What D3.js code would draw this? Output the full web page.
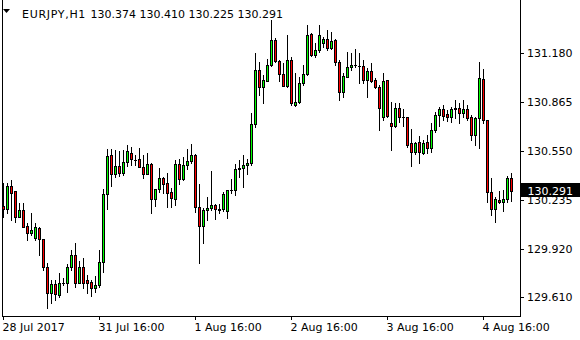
<!DOCTYPE html>
<html><head><meta charset="utf-8">
<script src="https://cdn.jsdelivr.net/npm/d3@7/dist/d3.min.js"></script>
<style>
html,body{margin:0;padding:0;background:#fff;}
svg{display:block;font-family:"DejaVu Sans",Verdana,sans-serif;}
</style></head>
<body>
<svg id="chart" width="580" height="340"></svg>
<script>
const symbol = "EURJPY,H1";
const timeLabels = ["28 Jul 2017","31 Jul 16:00","1 Aug 16:00","2 Aug 16:00","3 Aug 16:00","4 Aug 16:00"];
const timeLabelIndex = [0,24,48,72,96,120];
const priceTicks = [131.180,130.865,130.550,130.235,129.920,129.610];

const open = [
130.195,130.174,130.324,130.290,130.127,130.170,130.067,130.020,129.988,130.052,
129.981,129.805,129.638,129.694,129.623,129.702,129.698,129.801,129.878,129.702,
129.801,129.719,129.708,129.666,129.687,129.837,130.273,130.524,130.399,130.453,
130.406,130.477,130.535,130.493,130.496,130.444,130.399,130.466,130.239,130.303,
130.374,130.342,130.284,130.239,130.464,130.367,130.459,130.485,130.524,130.187,
130.067,130.170,130.181,130.202,130.170,130.174,130.163,130.298,130.298,130.432,
130.438,130.459,130.470,130.721,131.071,130.959,131.002,131.103,131.264,131.130,
131.045,130.968,131.135,130.845,130.867,130.985,131.045,131.302,131.167,131.199,
131.242,131.268,131.210,131.264,131.124,130.931,131.027,131.088,131.103,131.096,
131.096,131.006,131.066,131.006,130.959,130.766,131.006,130.728,130.710,130.824,
130.766,130.766,130.599,130.545,130.609,130.538,130.605,130.567,130.684,130.781,
130.820,130.786,130.770,130.820,130.828,130.792,130.820,130.770,130.652,130.760,
131.013,130.749,130.287,130.176,130.234,130.219,130.240,130.374];

const high = [
130.343,130.343,130.363,130.292,130.215,130.215,130.088,130.150,130.088,130.062,
129.981,129.829,129.719,129.719,129.764,129.732,129.822,129.912,129.957,129.843,
129.861,129.751,129.719,129.745,129.912,130.303,130.560,130.560,130.556,130.551,
130.556,130.588,130.573,130.524,130.567,130.524,130.535,130.474,130.303,130.438,
130.380,130.406,130.309,130.491,130.496,130.509,130.560,130.594,130.530,130.337,
130.181,130.255,130.423,130.208,130.208,130.287,130.298,130.369,130.466,130.491,
130.524,130.498,130.792,131.178,131.124,131.038,131.139,131.392,131.276,131.135,
131.114,131.296,131.156,131.049,131.027,131.103,131.360,131.307,131.242,131.360,
131.285,131.328,131.317,131.268,131.135,131.053,131.188,131.178,131.204,131.178,
131.135,131.082,131.114,131.017,130.974,131.053,131.006,130.867,130.856,130.856,
130.818,130.766,130.689,130.609,130.646,130.620,130.652,130.731,130.802,130.834,
130.845,130.813,130.834,130.878,130.856,130.878,130.845,130.781,130.770,131.120,
131.077,130.749,130.374,130.255,130.292,130.298,130.390,130.410];

const low = [
130.125,130.150,130.105,130.094,130.125,130.060,129.977,130.009,129.977,129.880,
129.784,129.539,129.571,129.591,129.612,129.687,129.644,129.784,129.676,129.698,
129.668,129.636,129.618,129.644,129.676,129.773,130.174,130.324,130.384,130.388,
130.395,130.455,130.459,130.459,130.444,130.374,130.399,130.148,130.195,130.287,
130.277,130.191,130.187,130.202,130.337,130.363,130.432,130.470,130.159,129.831,
129.959,130.105,130.170,130.110,130.148,130.165,130.116,130.277,130.266,130.380,
130.316,130.399,130.459,130.706,130.910,130.856,131.002,131.096,131.124,131.002,
130.968,130.959,130.845,130.839,130.856,130.974,131.038,131.161,131.156,131.188,
131.217,131.199,131.204,131.103,130.878,130.899,131.024,131.071,131.088,130.989,
130.985,130.899,130.995,130.953,130.684,130.749,130.766,130.556,130.706,130.738,
130.710,130.577,130.453,130.530,130.470,130.530,130.535,130.541,130.674,130.712,
130.749,130.742,130.738,130.760,130.728,130.770,130.749,130.620,130.588,130.571,
130.728,130.223,130.138,130.091,130.213,130.163,130.223,130.225];

const close = [
130.176,130.324,130.281,130.127,130.170,130.062,130.020,130.041,130.058,129.981,
129.805,129.638,129.694,129.629,129.698,129.702,129.801,129.878,129.702,129.801,
129.702,129.702,129.666,129.687,129.837,130.273,130.517,130.399,130.453,130.406,
130.477,130.551,130.496,130.493,130.444,130.399,130.464,130.239,130.303,130.374,
130.337,130.281,130.245,130.464,130.367,130.459,130.485,130.524,130.187,130.067,
130.170,130.183,130.202,130.174,130.178,130.273,130.298,130.298,130.434,130.442,
130.459,130.470,130.721,131.071,130.959,131.006,131.103,131.264,131.130,131.045,
130.968,131.135,130.856,130.867,130.985,131.045,131.296,131.167,131.199,131.296,
131.268,131.210,131.259,131.124,130.931,131.032,131.092,131.103,131.103,131.096,
131.006,131.066,131.002,130.959,130.824,131.000,130.775,130.710,130.824,130.766,
130.766,130.588,130.545,130.603,130.545,130.599,130.567,130.684,130.781,130.820,
130.777,130.770,130.820,130.828,130.792,130.820,130.764,130.652,130.764,131.017,
130.749,130.287,130.176,130.240,130.219,130.240,130.374,130.291];

const candles = open.map((o,i)=>({i, o, h:high[i], l:low[i], c:close[i]}));
const n = candles.length;

const svg = d3.select("#chart").attr("shape-rendering","crispEdges");
const plotLeft = 2, plotRight = 520, plotBottom = 316;

const x = d3.scaleLinear().domain([0, n-1]).range([3, 3 + 4*(n-1)]);
const y = d3.scaleLinear().domain([129.610, 131.180]).range([297, 53]);

svg.append("rect").attr("width",580).attr("height",340).attr("fill","#fff");

// candles
const gC = svg.append("g");
candles.forEach(d=>{
  const cx = x(d.i);
  const yh = Math.round(y(d.h)), yl = Math.round(y(d.l));
  const yt = Math.round(y(Math.max(d.o,d.c))), yb = Math.round(y(Math.min(d.o,d.c)));
  gC.append("line").attr("x1",cx+0.5).attr("x2",cx+0.5).attr("y1",yh).attr("y2",yl+1)
    .attr("stroke","#000").attr("stroke-width",1);
  if (yb - yt < 1) {
    gC.append("line").attr("x1",cx-1).attr("x2",cx+2).attr("y1",yt+0.5).attr("y2",yt+0.5)
      .attr("stroke","#000").attr("stroke-width",1);
  } else {
    gC.append("rect").attr("x",cx-0.5).attr("y",yt+0.5).attr("width",2).attr("height",yb-yt)
      .attr("fill", d.c > d.o ? "#00ff00" : (d.c < d.o ? "#ff0000" : "#000"))
      .attr("stroke","#000").attr("stroke-width",1);
  }
});

// frame
svg.append("line").attr("x1",plotLeft+0.5).attr("x2",plotLeft+0.5).attr("y1",0).attr("y2",plotBottom+1).attr("stroke","#000");
svg.append("line").attr("x1",plotRight+0.5).attr("x2",plotRight+0.5).attr("y1",0).attr("y2",plotBottom+1).attr("stroke","#000");
svg.append("line").attr("x1",plotLeft).attr("x2",plotRight+1).attr("y1",plotBottom+0.5).attr("y2",plotBottom+0.5).attr("stroke","#000");

// right price axis
const yAxis = d3.axisRight(y).tickValues(priceTicks).tickFormat(d3.format(".3f")).tickSize(4).tickPadding(3);
const gy = svg.append("g").attr("transform",`translate(${plotRight},0)`).call(yAxis);
gy.select(".domain").remove();
gy.selectAll("text").attr("font-size",11).attr("fill","#000").attr("font-family","DejaVu Sans");
gy.selectAll("line").attr("stroke","#000");

// bottom time axis
const xAxis = d3.axisBottom(x).tickValues(timeLabelIndex)
  .tickFormat((d)=>timeLabels[timeLabelIndex.indexOf(d)]).tickSize(4).tickPadding(3);
const gx = svg.append("g").attr("transform",`translate(0,${plotBottom})`).call(xAxis);
gx.select(".domain").remove();
gx.selectAll("text").attr("font-size",11).attr("fill","#000").attr("font-family","DejaVu Sans")
  .attr("text-anchor","start").attr("x",-1);
gx.selectAll("line").attr("stroke","#000");

// current price label
const last = candles[n-1];
const ly = Math.round(y(last.c));
svg.append("rect").attr("x",521).attr("y",ly-8).attr("width",59).attr("height",14).attr("fill","#000");
svg.append("text").attr("x",527.5).attr("y",ly+4).attr("font-size",11).attr("fill","#fff")
  .text(last.c.toFixed(3));

// header
svg.append("path").attr("d","M3,9 L10,9 L6.5,13 Z").attr("fill","#000").attr("shape-rendering","auto");
svg.append("text").attr("x",22).attr("y",17.5).attr("font-size",11).attr("letter-spacing",0.7).attr("fill","#000").text(symbol);
svg.append("text").attr("x",90.5).attr("y",17.5).attr("font-size",11).attr("fill","#000")
  .text([last.o,last.h,last.l,last.c].map(v=>v.toFixed(3)).join(" "));
</script>
</body></html>
